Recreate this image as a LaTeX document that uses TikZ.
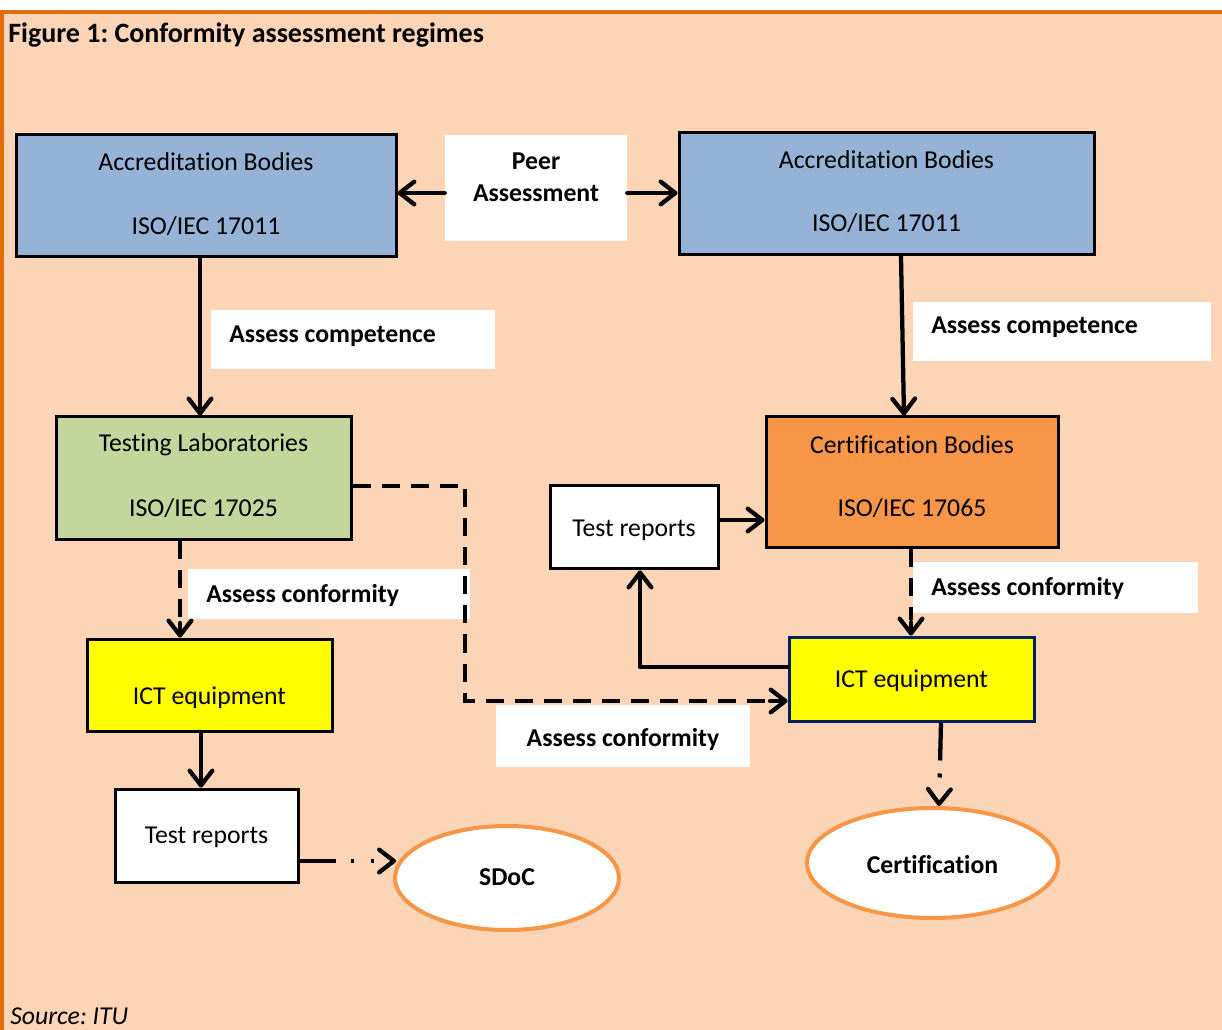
\documentclass[tikz,border=0pt]{standalone}
\usepackage{fontspec}
\setmainfont[Ligatures={NoCommon}]{Carlito}
\usetikzlibrary{arrows.meta,shapes.geometric}
\definecolor{peach}{RGB}{251,213,181}
\definecolor{frameor}{RGB}{228,108,10}
\definecolor{abblue}{RGB}{149,179,215}
\definecolor{tlgreen}{RGB}{195,214,155}
\definecolor{cborange}{RGB}{247,150,70}
\definecolor{navyb}{RGB}{0,32,96}
\definecolor{ictyellow}{RGB}{255,255,0}
\newdimen\pxu \pxu=0.75pt
\frenchspacing
\tikzset{
  boxed/.style={draw=black, line width=2.25pt, rectangle, inner sep=0pt},
  lab/.style={fill=white, rectangle, inner sep=0pt},
  txt/.style={inner sep=0pt, font=\fontsize{19.3}{24}\selectfont},
  btxt/.style={inner sep=0pt, font=\fontsize{19.3}{24}\selectfont\bfseries},
  conn/.style={line width=3.2pt, line cap=round, line join=round},
  arr/.style={conn, -{Straight Barb[length=11pt,width=17pt,line cap=round,line join=round]}},
  dsh/.style={line width=3.2pt, line cap=butt, dash pattern=on 18\pxu off 11\pxu},
  oval/.style={ellipse, draw=cborange, line width=3pt, fill=white, inner sep=0pt}
}
\begin{document}
\begin{tikzpicture}[x=0.75pt,y=-0.75pt]
\useasboundingbox (0,0) rectangle (1222,1030);
\fill[white] (0,0) rectangle (1222,1030);
\fill[peach] (0,12) rectangle (1222,1030);
\fill[frameor] (0,10) rectangle (1222,14);
\fill[frameor] (0,10) rectangle (4,1030);

\node[inner sep=0pt, anchor=west, font=\fontsize{21}{25}\selectfont\bfseries] (title) at (8,35) {Figure 1: Conformity assessment regimes};
\node[inner sep=0pt, anchor=west, font=\fontsize{19.3}{24}\selectfont\itshape] (src) at (10,1016) {Source: ITU};

% boxes
\node[boxed, fill=abblue, minimum width=380\pxu, minimum height=122\pxu] (ab1) at (206,196) {};
\node[txt] (ab1a) at (206,162) {Accreditation Bodies};
\node[txt] (ab1b) at (206,226) {ISO/IEC 17011};

\node[lab, minimum width=182\pxu, minimum height=106\pxu] (pa) at (536,188) {};
\node[btxt, align=center] (pat) at (536,177) {Peer\\Assessment};

\node[boxed, fill=abblue, minimum width=415\pxu, minimum height=122\pxu] (ab2) at (886.5,194) {};
\node[txt] (ab2a) at (886.5,160) {Accreditation Bodies};
\node[txt] (ab2b) at (886.5,223) {ISO/IEC 17011};

\node[lab, minimum width=284\pxu, minimum height=59\pxu] (ac1) at (353,339.5) {};
\node[btxt, anchor=west] (ac1t) at (229,336) {Assess competence};
\node[lab, minimum width=298\pxu, minimum height=59\pxu] (ac2) at (1062,331.5) {};
\node[btxt, anchor=west] (ac2t) at (931,327) {Assess competence};

\node[boxed, fill=tlgreen, minimum width=295\pxu, minimum height=123\pxu] (tl) at (203.5,478.5) {};
\node[txt] (tla) at (203.5,445) {Testing Laboratories};
\node[txt] (tlb) at (203.5,508) {ISO/IEC 17025};

\node[boxed, fill=cborange, minimum width=292\pxu, minimum height=131\pxu] (cb) at (912,482.5) {};
\node[txt] (cba) at (912,445) {Certification Bodies};
\node[txt] (cbb) at (912,508) {ISO/IEC 17065};

\node[boxed, fill=white, minimum width=168\pxu, minimum height=83\pxu] (tr2) at (634,527.5) {};
\node[txt] (tr2t) at (634,530) {Test reports};

\node[boxed, draw=navyb, fill=ictyellow, minimum width=245\pxu, minimum height=84\pxu] (ict2) at (911.5,679) {};
\node[txt] (ict2t) at (911.5,681) {ICT equipment};

\node[lab, minimum width=285\pxu, minimum height=51\pxu] (acf2) at (1055.5,587.5) {};
\node[btxt, anchor=west] (acf2t) at (931,588) {Assess conformity};
\node[lab, minimum width=254\pxu, minimum height=62\pxu] (acf3) at (623,736) {};
\node[btxt] (acf3t) at (623,739) {Assess conformity};
\node[lab, minimum width=282\pxu, minimum height=50\pxu] (acf1) at (329,594) {};
\node[btxt, anchor=west] (acf1t) at (206,595) {Assess conformity};

\node[boxed, fill=ictyellow, minimum width=245\pxu, minimum height=92\pxu] (ict1) at (209.5,685) {};
\node[txt] (ict1t) at (209.5,698) {ICT equipment};

\node[boxed, fill=white, minimum width=183\pxu, minimum height=93\pxu] (tr1) at (206.5,835.5) {};
\node[txt] (tr1t) at (206.5,837) {Test reports};

\node[oval, minimum width=224\pxu, minimum height=104\pxu] (sdoc) at (507,878) {};
\node[btxt] (sdoct) at (507,877) {SDoC};
\node[oval, minimum width=251\pxu, minimum height=110\pxu] (cert) at (932.5,863) {};
\node[btxt] (certt) at (932.5,865) {Certification};

% connectors
\draw[arr] (pa.west |- 0,193) -- (ab1.east |- 0,193);
\draw[arr] (pa.east |- 0,193) -- (ab2.west |- 0,193);
\draw[arr] (ab1.south -| 200,0) -- (tl.north -| 200,0);
\draw[arr] (ab2.south -| 901,0) -- (cb.north -| 904,0);
\draw[arr] (tr2.east |- 0,520) -- (cb.west |- 0,520);
\draw[arr] (ict2.west |- 0,667) -| (tr2.south -| 640,0);
\draw[dsh] (cb.south -| 911,0) -- (911,620);
\draw[arr] (911,622) -- (ict2.north -| 911,0);
\draw[dsh] (tl.east |- 0,486) -| (465,701) -- (768,701);
\draw[arr] (770,701) -- (ict2.west |- 0,701);
\draw[dsh] (tl.south -| 180,0) -- (180,620);
\draw[arr] (180,623) -- (ict1.north -| 180,0);
\draw[arr] (ict1.south -| 201,0) -- (tr1.north -| 201,0);
\draw[arr, dash pattern=on 36\pxu off 15\pxu on 3\pxu off 17\pxu on 3\pxu off 40\pxu, line cap=butt] (tr1.east |- 0,861) -- (396,861);
\draw[arr, dash pattern=on 38\pxu off 13\pxu on 4\pxu off 40\pxu, line cap=butt] (ict2.south -| 941,0) -- (cert.north -| 939,0);
\end{tikzpicture}
\end{document}
